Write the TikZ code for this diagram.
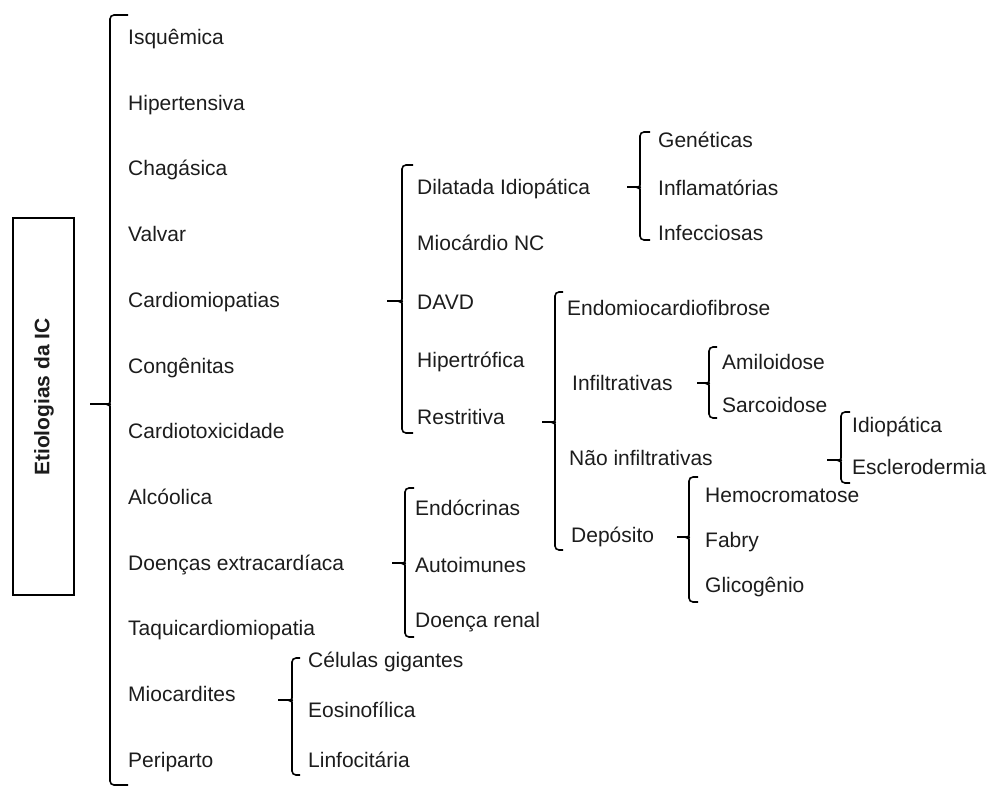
\documentclass[tikz,border=0pt]{standalone}
\usepackage{fontspec}
\setmainfont{Liberation Sans}
\definecolor{txt}{HTML}{1C1C1C}
\newcommand{\brk}[6]{%
  \draw[brline, rounded corners=4pt] (#6,#3) -- (#2,#3) -- (#2,#4-6) to[out=270,in=0] (#2-4,#4) -- (#1,#4);
  \draw[brline, rounded corners=4pt] (#6,#5) -- (#2,#5) -- (#2,#4+6) to[out=90,in=0] (#2-4,#4);
}
\begin{document}
\begin{tikzpicture}[x=1pt,y=-1pt,
  item/.style={anchor=base west, inner sep=0pt, text=txt, font=\fontsize{21}{25}\selectfont},
  brline/.style={draw=black, line width=1.6pt},
  rootbox/.style={draw=black, line width=1.6pt, minimum width=61pt, minimum height=377pt, inner sep=0pt},
  rootlabel/.style={rotate=90, inner sep=0pt, text=txt, font=\fontsize{21}{25}\selectfont\bfseries}]
\useasboundingbox (0,0) rectangle (992,787);
% root
\node[rootbox] (root) at (43.5,406.5) {};
\node[rootlabel] (rootlab) at (44,397) {Etiologias da IC};
% main bracket
\brk{90}{110}{15}{404}{785}{128}
% main list
\node[item] (isq) at (128,44) {Isquêmica};
\node[item] (hip) at (128,110) {Hipertensiva};
\node[item] (cha) at (128,175) {Chagásica};
\node[item] (val) at (128,241) {Valvar};
\node[item] (cmp) at (128,307) {Cardiomiopatias};
\node[item] (con) at (128,373) {Congênitas};
\node[item] (ctx) at (128,438) {Cardiotoxicidade};
\node[item] (alc) at (128,504) {Alcóolica};
\node[item] (dex) at (128,570) {Doenças extracardíaca};
\node[item] (taq) at (128,635) {Taquicardiomiopatia};
\node[item] (mio) at (128,701) {Miocardites};
\node[item] (per) at (128,767) {Periparto};
% cardiomiopatias
\brk{387}{402}{165}{301}{433}{413}
\node[item] (dil) at (417,194) {Dilatada Idiopática};
\node[item] (mnc) at (417,250) {Miocárdio NC};
\node[item] (davd) at (417,309) {DAVD};
\node[item] (hpt) at (417,367) {Hipertrófica};
\node[item] (res) at (417,424) {Restritiva};
% dilatada
\brk{627}{640}{132}{187}{240}{650}
\node[item] (gen) at (658,147) {Genéticas};
\node[item] (inf) at (658,195) {Inflamatórias};
\node[item] (ifc) at (658,240) {Infecciosas};
% restritiva
\brk{542}{555}{292}{422}{550}{563}
\node[item] (emf) at (567,315) {Endomiocardiofibrose};
\node[item] (ift) at (572,390) {Infiltrativas};
\node[item] (nif) at (569,465) {Não infiltrativas};
\node[item] (dep) at (571,542) {Depósito};
% infiltrativas
\brk{697}{709}{347}{383}{418}{717}
\node[item] (ami) at (722,369) {Amiloidose};
\node[item] (sar) at (722,412) {Sarcoidose};
% nao infiltrativas
\brk{827}{841}{412}{460}{483}{850}
\node[item] (idi) at (852,432) {Idiopática};
\node[item] (esc) at (852,474) {Esclerodermia};
% deposito
\brk{677}{689}{477}{537}{602}{698}
\node[item] (hem) at (705,502) {Hemocromatose};
\node[item] (fab) at (705,547) {Fabry};
\node[item] (gli) at (705,592) {Glicogênio};
% doencas extracardiaca
\brk{392}{405}{488}{563}{637}{414}
\node[item] (end) at (415,515) {Endócrinas};
\node[item] (aut) at (415,572) {Autoimunes};
\node[item] (ren) at (415,627) {Doença renal};
% miocardites
\brk{278}{292}{658}{700}{775}{300}
\node[item] (cel) at (308,667) {Células gigantes};
\node[item] (eos) at (308,717) {Eosinofílica};
\node[item] (lin) at (308,767) {Linfocitária};
\end{tikzpicture}
\end{document}
